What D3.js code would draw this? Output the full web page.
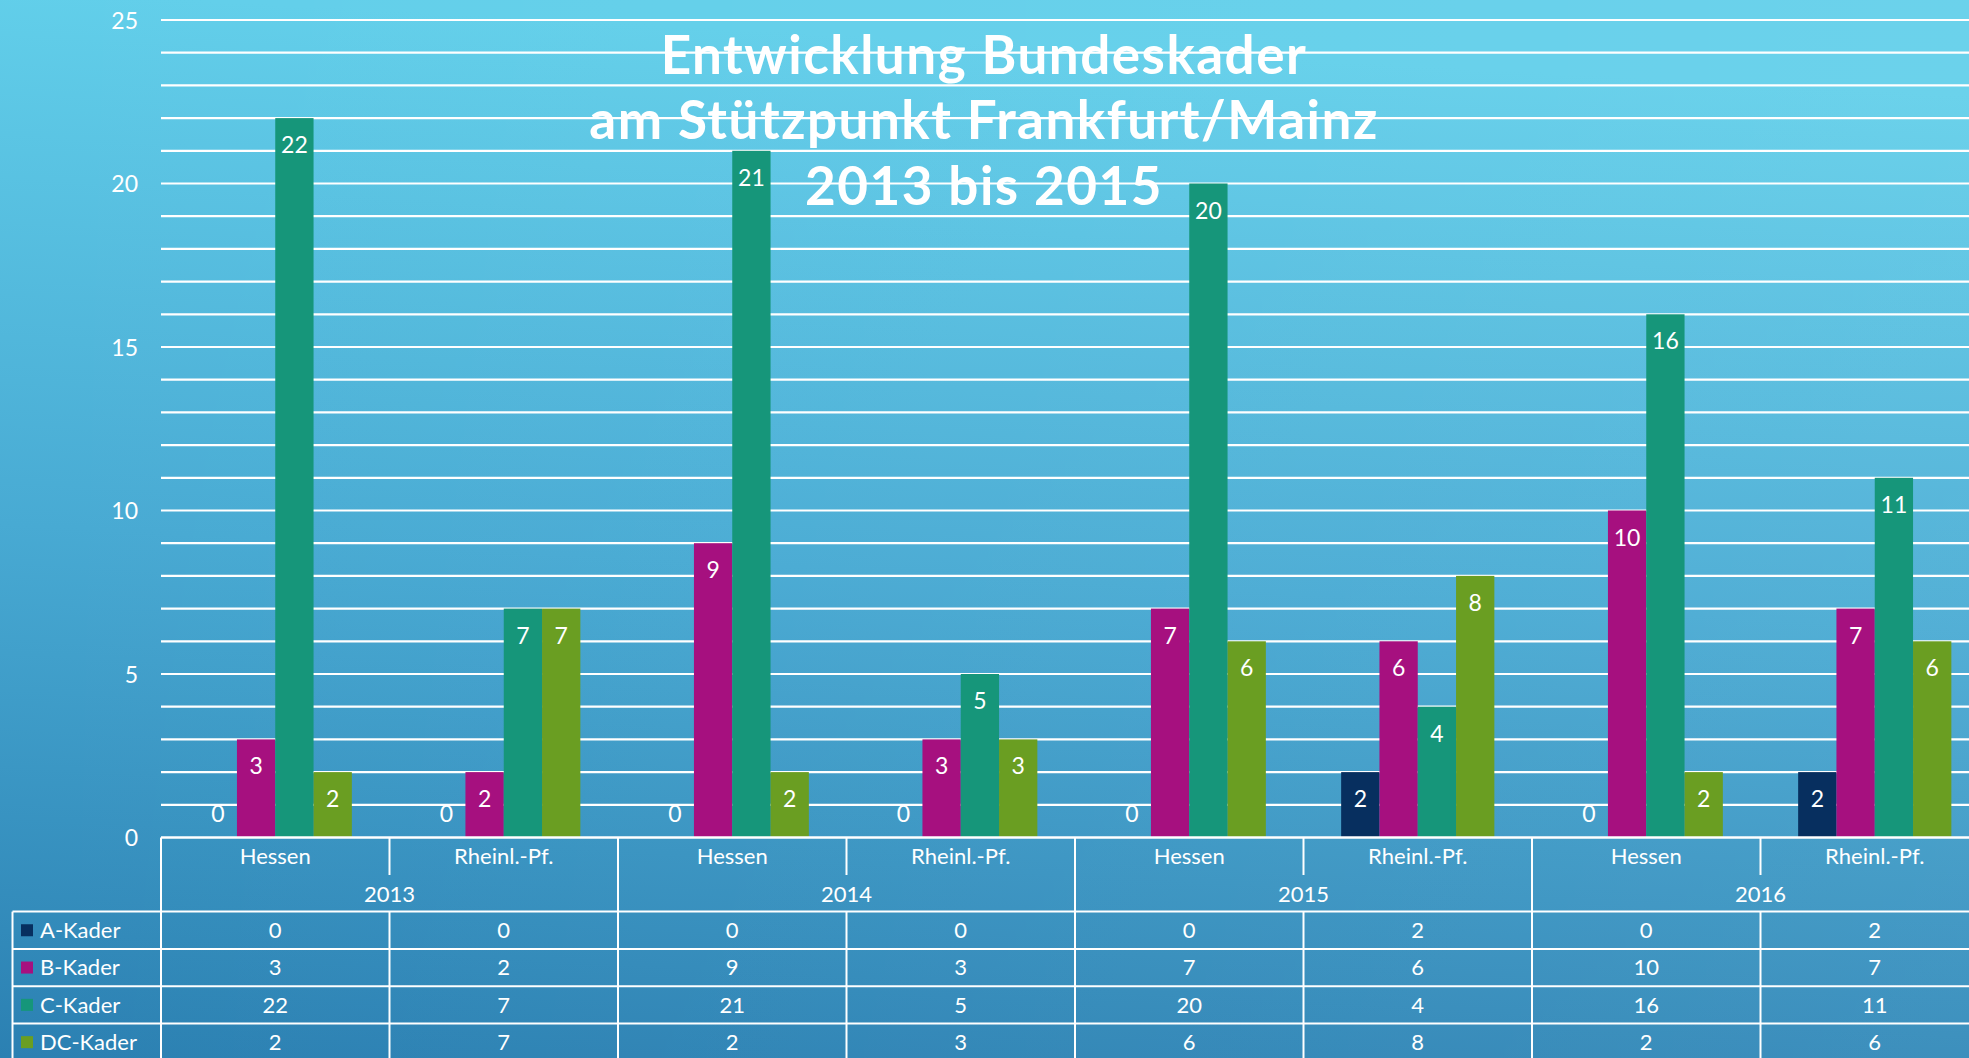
<!DOCTYPE html>
<html>
<head>
<meta charset="utf-8">
<script src="https://cdn.jsdelivr.net/npm/d3@7"></script>
<style>
  html, body { margin: 0; padding: 0; overflow: hidden; }
  body { width: 1969px; height: 1058px; }
  text { font-family: "Lato", "DejaVu Sans", sans-serif; fill: #ffffff; }
</style>
</head>
<body>
<div id="chart"></div>
<script>
// data
const years = ["2013", "2014", "2015", "2016"];
const regions = ["Hessen", "Rheinl.-Pf."];
const seriesNames = ["A-Kader", "B-Kader", "C-Kader", "DC-Kader"];
const seriesColors = ["#072f5f", "#a6107f", "#16967a", "#6a9e22"];
// one value per column: 2013 Hessen, 2013 Rheinl.-Pf., 2014 Hessen, ...
const aKader = [0, 0, 0, 0, 0, 2, 0, 2];
const bKader = [3, 2, 9, 3, 7, 6, 10, 7];
const cKader = [22, 7, 21, 5, 20, 4, 16, 11];
const dcKader = [2, 7, 2, 3, 6, 8, 2, 6];
const yTicks = [0, 5, 10, 15, 20, 25];
const titleLines = ["Entwicklung Bundeskader", "am Stützpunkt Frankfurt/Mainz", "2013 bis 2015"];

const W = 1969, H = 1058;
const plot = {left: 161, top: 20, bottom: 837.5};
const colW = 228.5;
const rowH = 37.3;
const tableTop = 911.6;

const seriesValues = [aKader, bKader, cKader, dcKader];
const columns = [];
years.forEach(y => regions.forEach(r => columns.push({year: y, region: r, key: y + "|" + r})));

const svg = d3.select("#chart").append("svg")
    .attr("width", W)
    .attr("height", H);

// background gradient
const defs = svg.append("defs");
const grad = defs.append("linearGradient")
    .attr("id", "bg")
    .attr("x1", "0.1").attr("y1", "0")
    .attr("x2", "0").attr("y2", "1");
grad.append("stop").attr("offset", "0%").attr("stop-color", "#62cfea");
grad.append("stop").attr("offset", "50%").attr("stop-color", "#48aad3");
grad.append("stop").attr("offset", "100%").attr("stop-color", "#2b80b2");
svg.append("rect").attr("width", W).attr("height", H).attr("fill", "url(#bg)");
// slight brightening towards the right
const grad2 = defs.append("linearGradient")
    .attr("id", "bg2")
    .attr("x1", "0").attr("y1", "0")
    .attr("x2", "1").attr("y2", "0");
grad2.append("stop").attr("offset", "0%").attr("stop-color", "#ffffff").attr("stop-opacity", 0);
grad2.append("stop").attr("offset", "100%").attr("stop-color", "#ffffff").attr("stop-opacity", 0.06);
svg.append("rect").attr("width", W).attr("height", H).attr("fill", "url(#bg2)");

// scales
const x0 = d3.scaleBand()
    .domain(columns.map(d => d.key))
    .range([plot.left, plot.left + colW * columns.length])
    .padding(0);

const x1 = d3.scaleBand()
    .domain(seriesNames)
    .range([0, x0.bandwidth()])
    .paddingInner(0)
    .paddingOuter(0.983);

const y = d3.scaleLinear()
    .domain([0, 25])
    .range([plot.bottom, plot.top]);

// gridlines every unit
svg.append("g")
    .selectAll("line")
    .data(d3.range(1, 26))
    .join("line")
    .attr("x1", plot.left)
    .attr("x2", W)
    .attr("y1", d => y(d))
    .attr("y2", d => y(d))
    .attr("stroke", "#ffffff")
    .attr("stroke-width", 2.2);

// y axis labels
const yAxis = d3.axisLeft(y).tickValues(yTicks).tickSize(0).tickPadding(0);
const yg = svg.append("g")
    .attr("transform", `translate(${138},0)`)
    .call(yAxis);
yg.select(".domain").remove();
yg.selectAll("text")
    .attr("fill", "#ffffff")
    .style("font-size", "23px")
    .attr("dy", "0.35em");

// bars
const barData = [];
columns.forEach((c, i) => {
    seriesNames.forEach((s, k) => {
        barData.push({col: c.key, series: s, color: seriesColors[k], value: seriesValues[k][i]});
    });
});

svg.append("g")
    .selectAll("rect")
    .data(barData)
    .join("rect")
    .attr("x", d => x0(d.col) + x1(d.series))
    .attr("y", d => y(d.value))
    .attr("width", x1.bandwidth())
    .attr("height", d => y(0) - y(d.value))
    .attr("fill", d => d.color);

// data labels (inside end, zero values sit above the baseline)
svg.append("g")
    .selectAll("text")
    .data(barData)
    .join("text")
    .attr("x", d => x0(d.col) + x1(d.series) + x1.bandwidth() / 2)
    .attr("y", d => d.value === 0 ? y(0) - 24 : y(d.value) + 27)
    .attr("dy", "0.35em")
    .attr("text-anchor", "middle")
    .style("font-size", "23px")
    .text(d => d.value);

// axis base line
svg.append("line")
    .attr("x1", plot.left).attr("x2", W)
    .attr("y1", y(0)).attr("y2", y(0))
    .attr("stroke", "#ffffff").attr("stroke-width", 2.5);

// title
const title = svg.append("g");
titleLines.forEach((t, i) => {
    title.append("text")
        .attr("x", 984)
        .attr("y", 55 + i * 65.5)
        .attr("dy", "0.35em")
        .attr("text-anchor", "middle")
        .style("font-size", "53px")
        .style("font-weight", "bold")
        .style("letter-spacing", "1.5px")
        .text(t);
});

// data table
const table = svg.append("g");
const lineAttr = sel => sel.attr("stroke", "#ffffff").attr("stroke-width", 2);
const tableBottom = tableTop + rowH * seriesNames.length;

// category labels
table.selectAll(".cat")
    .data(columns)
    .join("text")
    .attr("class", "cat")
    .attr("x", d => x0(d.key) + colW / 2)
    .attr("y", 856)
    .attr("dy", "0.35em")
    .attr("text-anchor", "middle")
    .style("font-size", "22px")
    .text(d => d.region);

// year labels
table.selectAll(".year")
    .data(years)
    .join("text")
    .attr("class", "year")
    .attr("x", (d, i) => x0(columns[i * 2].key) + colW)
    .attr("y", 894)
    .attr("dy", "0.35em")
    .attr("text-anchor", "middle")
    .style("font-size", "22px")
    .text(d => d);

// vertical lines: between regions (short) and between years (full)
columns.forEach((c, i) => {
    const xx = x0(c.key);
    if (i % 2 === 1) {
        table.append("line").call(lineAttr)
            .attr("x1", xx).attr("x2", xx)
            .attr("y1", y(0)).attr("y2", 875);
        table.append("line").call(lineAttr)
            .attr("x1", xx).attr("x2", xx)
            .attr("y1", tableTop).attr("y2", tableBottom);
    } else {
        table.append("line").call(lineAttr)
            .attr("x1", xx).attr("x2", xx)
            .attr("y1", y(0)).attr("y2", tableBottom);
    }
});

// legend column left edge
table.append("line").call(lineAttr)
    .attr("x1", 12.5).attr("x2", 12.5)
    .attr("y1", tableTop).attr("y2", tableBottom);

// row lines
table.selectAll(".rowline")
    .data(d3.range(seriesNames.length + 1))
    .join("line")
    .attr("class", "rowline")
    .call(lineAttr)
    .attr("x1", 12.5).attr("x2", W)
    .attr("y1", d => tableTop + d * rowH)
    .attr("y2", d => tableTop + d * rowH);

// row keys and names
seriesNames.forEach((s, k) => {
    const cy = tableTop + k * rowH + rowH / 2;
    table.append("rect")
        .attr("x", 21).attr("y", cy - 6)
        .attr("width", 12).attr("height", 12)
        .attr("fill", seriesColors[k]);
    table.append("text")
        .attr("x", 40).attr("y", cy)
        .attr("dy", "0.35em")
        .style("font-size", "22px")
        .text(s);
    table.selectAll(".v" + k)
        .data(seriesValues[k])
        .join("text")
        .attr("x", (d, i) => x0(columns[i].key) + colW / 2)
        .attr("y", cy)
        .attr("dy", "0.35em")
        .attr("text-anchor", "middle")
        .style("font-size", "22px")
        .text(d => d);
});
</script>
</body>
</html>
